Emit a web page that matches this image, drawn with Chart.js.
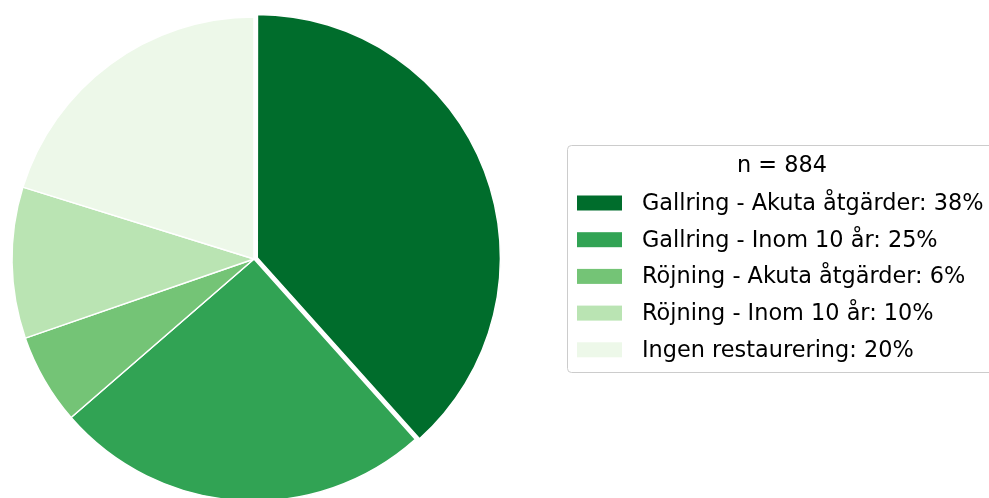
<!DOCTYPE html>
<html>
<head>
<meta charset="utf-8">
<script src="https://cdn.jsdelivr.net/npm/chart.js@4/dist/chart.umd.min.js"></script>
<style>
  html, body { margin: 0; padding: 0; background: #ffffff; overflow: hidden; }
  #wrap { position: relative; width: 989px; height: 498px; }
</style>
</head>
<body>
<div id="wrap"><canvas id="c"></canvas></div>
<script>
// Restoration needs, share of stands (n = 884)
const categories = [
  'Gallring - Akuta åtgärder',
  'Gallring - Inom 10 år',
  'Röjning - Akuta åtgärder',
  'Röjning - Inom 10 år',
  'Ingen restaurering'
];
const shares = [38, 25, 6, 10, 20];
const sliceColors = ['#006d2c', '#31a354', '#74c476', '#bae4b3', '#edf8e9'];
const legendTitle = 'n = 884';

const FONT = '"DejaVu Sans", "Liberation Sans", sans-serif';

// Legend box drawn on the canvas to the right of the pie
const boxLegend = {
  id: 'boxLegend',
  afterDraw(chart) {
    const ctx = chart.ctx;
    const ds = chart.data.datasets[0];
    const labels = chart.data.labels;
    const left = 567.5, top = 145.5, width = 430, height = 227;
    ctx.save();
    // frame
    ctx.beginPath();
    ctx.roundRect(left, top, width, height, 4);
    ctx.fillStyle = 'rgba(255,255,255,0.8)';
    ctx.fill();
    ctx.lineWidth = 1;
    ctx.strokeStyle = '#cccccc';
    ctx.stroke();
    // title
    ctx.font = '22.4px ' + FONT;
    ctx.fillStyle = '#000000';
    ctx.textBaseline = 'middle';
    ctx.textAlign = 'center';
    ctx.fillText(legendTitle, 782, 166);
    // entries
    ctx.textAlign = 'left';
    const y0 = 203, step = 36.7;
    labels.forEach((lab, i) => {
      const y = y0 + i * step;
      ctx.fillStyle = ds.backgroundColor[i];
      ctx.fillRect(577, y - 7.5, 45, 15);
      ctx.fillStyle = '#000000';
      ctx.fillText(lab + ': ' + ds.data[i] + '%', 642, y + 1);
    });
    ctx.restore();
  }
};

new Chart(document.getElementById('c'), {
  type: 'pie',
  data: {
    labels: categories,
    datasets: [{
      data: shares,
      backgroundColor: sliceColors,
      borderColor: '#ffffff',
      borderWidth: 1.5,
      offset: [14, 0, 0, 0, 0],
      radius: 242,
      clip: false
    }]
  },
  options: {
    responsive: true,
    maintainAspectRatio: false,
    animation: false,
    layout: { padding: { left: 0, right: 481, top: 20, bottom: 0 } },
    plugins: {
      legend: { display: false },
      tooltip: { enabled: false }
    }
  },
  plugins: [boxLegend]
});
</script>
</body>
</html>
